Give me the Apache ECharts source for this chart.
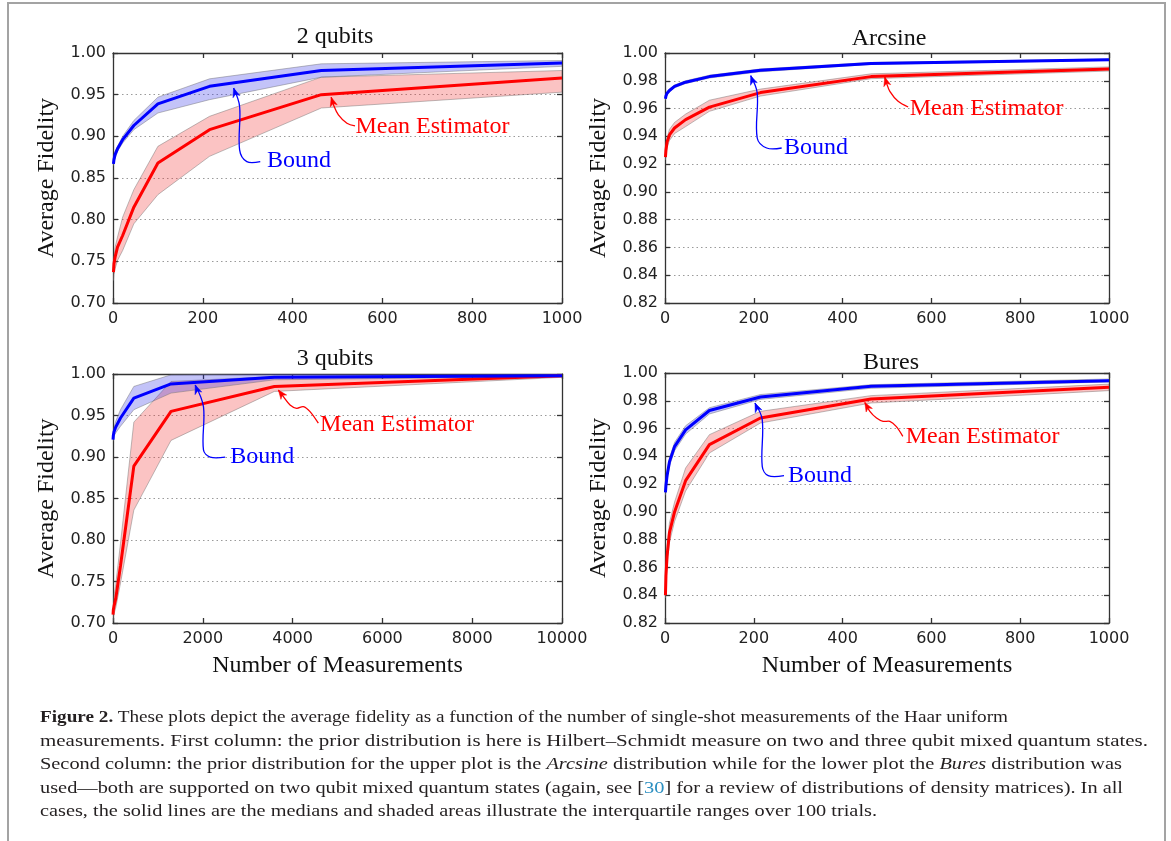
<!DOCTYPE html>
<html><head><meta charset="utf-8">
<script src="https://cdn.jsdelivr.net/npm/echarts@6/dist/echarts.min.js"></script>
<style>
html,body{margin:0;padding:0;background:#fff;}
#wrap{position:relative;width:1171px;height:841px;overflow:hidden;background:#fff;}
#chart{position:absolute;left:0;top:0;width:1171px;height:841px;}
#frame{position:absolute;left:7px;top:2px;width:1155px;height:900px;border:2px solid #a3a3a3;border-bottom:none;pointer-events:none;}
#caption{position:absolute;left:40px;top:705px;font-family:"Liberation Serif","Times New Roman",serif;font-size:17px;line-height:23.5px;color:#231f20;}
#caption div{white-space:nowrap;}
#caption span.ln{display:inline-block;transform-origin:0 50%;}
</style></head>
<body>
<div id="wrap">
<div id="chart"></div>
<div id="frame"></div>
<div id="caption">
<div><span class="ln"><b>Figure 2.</b> These plots depict the average fidelity as a function of the number of single-shot measurements of the Haar uniform</span></div>
<div><span class="ln">measurements. First column: the prior distribution is here is Hilbert–Schmidt measure on two and three qubit mixed quantum states.</span></div>
<div><span class="ln">Second column: the prior distribution for the upper plot is the <i>Arcsine</i> distribution while for the lower plot the <i>Bures</i> distribution was</span></div>
<div><span class="ln">used—both are supported on two qubit mixed quantum states (again, see [<span style="color:#2b8fc1">30</span>] for a review of distributions of density matrices). In all</span></div>
<div><span class="ln">cases, the solid lines are the medians and shaded areas illustrate the interquartile ranges over 100 trials.</span></div>
</div>
</div>
<script>
// ---------------- DATA ----------------
const measurements1000 = [1, 2.15, 4.64, 10, 21.5, 46.4, 100, 215, 464, 1000];
const measurements10000 = [1, 2.78, 7.74, 21.5, 59.9, 167, 464, 1292, 3594, 10000];

// 2 qubits
const q2Bound   = [0.867, 0.872, 0.878, 0.885, 0.896, 0.913, 0.939, 0.960, 0.979, 0.988];
const q2BoundLo = [0.865, 0.869, 0.874, 0.882, 0.892, 0.908, 0.928, 0.944, 0.971, 0.984];
const q2BoundHi = [0.869, 0.875, 0.882, 0.888, 0.900, 0.919, 0.947, 0.969, 0.987, 0.991];
const q2Mean    = [0.737, 0.747, 0.755, 0.767, 0.781, 0.815, 0.868, 0.908, 0.950, 0.970];
const q2MeanLo  = [0.727, 0.734, 0.741, 0.751, 0.763, 0.795, 0.830, 0.876, 0.934, 0.953];
const q2MeanHi  = [0.743, 0.755, 0.767, 0.779, 0.803, 0.836, 0.888, 0.924, 0.971, 0.979];

// Arcsine
const arcBound   = [0.967, 0.969, 0.971, 0.973, 0.976, 0.979, 0.983, 0.9875, 0.9925, 0.9952];
const arcBoundLo = [0.966, 0.968, 0.970, 0.972, 0.975, 0.978, 0.982, 0.9865, 0.9918, 0.9947];
const arcBoundHi = [0.968, 0.970, 0.972, 0.974, 0.977, 0.980, 0.984, 0.9885, 0.9932, 0.9957];
const arcMean    = [0.925, 0.930, 0.936, 0.941, 0.946, 0.952, 0.961, 0.9715, 0.983, 0.9885];
const arcMeanLo  = [0.923, 0.927, 0.932, 0.937, 0.942, 0.947, 0.958, 0.969, 0.9815, 0.987];
const arcMeanHi  = [0.927, 0.933, 0.939, 0.945, 0.950, 0.956, 0.966, 0.974, 0.985, 0.990];

// 3 qubits
const q3Bound   = [0.921, 0.923, 0.926, 0.930, 0.936, 0.947, 0.971, 0.988, 0.996, 0.998];
const q3BoundLo = [0.919, 0.920, 0.922, 0.925, 0.929, 0.937, 0.957, 0.977, 0.993, 0.997];
const q3BoundHi = [0.923, 0.926, 0.930, 0.935, 0.943, 0.957, 0.985, 0.999, 1.000, 1.000];
const q3Mean    = [0.710, 0.712, 0.716, 0.720, 0.729, 0.769, 0.889, 0.955, 0.985, 0.998];
const q3MeanLo  = [0.702, 0.704, 0.707, 0.711, 0.718, 0.748, 0.836, 0.920, 0.979, 0.996];
const q3MeanHi  = [0.718, 0.721, 0.726, 0.732, 0.746, 0.796, 0.942, 0.991, 0.997, 0.999];

// Bures
const buresBound   = [0.914, 0.919, 0.926, 0.936, 0.947, 0.959, 0.973, 0.9827, 0.9904, 0.9945];
const buresBoundLo = [0.912, 0.917, 0.923, 0.933, 0.944, 0.956, 0.9705, 0.981, 0.989, 0.9935];
const buresBoundHi = [0.916, 0.922, 0.929, 0.939, 0.950, 0.962, 0.975, 0.9845, 0.9916, 0.9957];
const buresMean    = [0.840, 0.854, 0.868, 0.885, 0.900, 0.9225, 0.9484, 0.9676, 0.9813, 0.9897];
const buresMeanLo  = [0.838, 0.850, 0.862, 0.878, 0.893, 0.915, 0.9424, 0.964, 0.9784, 0.9873];
const buresMeanHi  = [0.842, 0.858, 0.874, 0.892, 0.907, 0.9316, 0.9556, 0.9724, 0.9837, 0.992];

const panelTitles = ['2 qubits', 'Arcsine', '3 qubits', 'Bures'];
const boundLabel = 'Bound';
const meanLabel = 'Mean Estimator';
const yAxisTitle = 'Average Fidelity';
const xAxisTitle = 'Number of Measurements';

// ---------------- LAYOUT / STYLE ----------------
const BLUE = '#0000ff', RED = '#ff0000';
const BLUE_FILL = 'rgba(40,40,230,0.28)', RED_FILL = 'rgba(240,40,40,0.28)';
const BAND_EDGE = 'rgba(110,110,110,0.45)';
const SERIF = '"Liberation Serif","Times New Roman",serif';
const SANS = '"DejaVu Sans",sans-serif';

const panels = [
  {title: panelTitles[0], grid:{left:113, top:53, width:449, height:250}, titleTop:20, titleX:330,
   xs: measurements1000, xMax:1000, xInt:200, yMin:0.70, yInt:0.05,
   bound:[q2Bound,q2BoundLo,q2BoundHi], mean:[q2Mean,q2MeanLo,q2MeanHi], xName:false},
  {title: panelTitles[1], grid:{left:665, top:53, width:444, height:250}, titleTop:22, titleX:884,
   xs: measurements1000, xMax:1000, xInt:200, yMin:0.82, yInt:0.02,
   bound:[arcBound,arcBoundLo,arcBoundHi], mean:[arcMean,arcMeanLo,arcMeanHi], xName:false},
  {title: panelTitles[2], grid:{left:113, top:374, width:449, height:249}, titleTop:342, titleX:330,
   xs: measurements10000, xMax:10000, xInt:2000, yMin:0.70, yInt:0.05,
   bound:[q3Bound,q3BoundLo,q3BoundHi], mean:[q3Mean,q3MeanLo,q3MeanHi], xName:true},
  {title: panelTitles[3], grid:{left:665, top:373, width:444, height:250}, titleTop:346, titleX:886,
   xs: measurements1000, xMax:1000, xInt:200, yMin:0.82, yInt:0.02,
   bound:[buresBound,buresBoundLo,buresBoundHi], mean:[buresMean,buresMeanLo,buresMeanHi], xName:true}
];

// annotation anchors in data coordinates (text anchor + arrow path ending at arrow head)
const annotations = [
  {bound:{text:[343,0.8704], path:[[328,0.8696],[298,0.8696],[282,0.8837],[282,0.9358],[268.6,0.9579]]},
   mean:{text:[540,0.9117], path:[[539,0.9125],[521,0.9158],[502,0.9258],[491,0.9378],[486,0.947]]}},
  {bound:{text:[268,0.9318], path:[[262.8,0.9316],[229,0.9316],[207.7,0.9388],[207.7,0.9712],[193,0.9837]]},
   mean:{text:[551,0.9599], path:[[547.6,0.9611],[525,0.9652],[506.4,0.9724],[498.9,0.9784],[495,0.9827]]}},
  {bound:{text:[2609,0.9001], path:[[2498,0.8998],[2164,0.8998],[2015,0.9085],[2015,0.9606],[1831,0.9868]]},
   mean:{text:[4612,0.9386], path:[[4573,0.9407],[4388,0.9547],[4239,0.9607],[4091,0.9587],[3943,0.9627],[3795,0.9727],[3683,0.9807]]}},
  {bound:{text:[277,0.926], path:[[268,0.9261],[232.5,0.9261],[219,0.9328],[219,0.9664],[202.6,0.9784]]},
   mean:{text:[542,0.9541], path:[[535.6,0.9544],[520.6,0.9616],[506.4,0.9652],[491.3,0.9652],[476.4,0.9676],[461.4,0.9724],[450,0.9788]]}}
];

const axisLineStyle = {color:'#333', width:1.3};
const grids = [], xAxes = [], yAxes = [], series = [], titles = [];

function bandSeries(g, xs, lo, hi, fill) {
  const data = xs.map((x,k)=>[x, lo[k], hi[k]]);
  return {
    type:'custom', xAxisIndex:2*g, yAxisIndex:2*g, data, clip:true, silent:true, z:1, animation:false,
    encode:{x:0, y:[1,2]},
    renderItem(params, api) {
      if (params.dataIndex !== 0) return null;
      const up = data.map(d=>api.coord([d[0], d[2]]));
      const lw = data.map(d=>api.coord([d[0], d[1]])).reverse();
      return {type:'polygon', shape:{points: up.concat(lw)}, style:{fill:fill, stroke:BAND_EDGE, lineWidth:1}};
    }
  };
}
function lineSeries(g, xs, ys, color, z) {
  return {type:'line', xAxisIndex:2*g, yAxisIndex:2*g, data: xs.map((x,k)=>[x, ys[k]]),
    showSymbol:false, symbol:'none', silent:true, animation:false, z:z,
    lineStyle:{color:color, width:3}};
}

panels.forEach((p, g) => {
  grids.push(Object.assign({show:false}, p.grid));
  titles.push({text:p.title, left:p.titleX, top:p.titleTop, textAlign:'center',
    textStyle:{fontFamily:SERIF, fontSize:24, fontWeight:'normal', color:'#111', lineHeight:24}});
  xAxes.push({type:'value', gridIndex:g, min:0, max:p.xMax, interval:p.xInt, position:'bottom',
    axisLine:{show:true, onZero:false, lineStyle:axisLineStyle},
    axisTick:{show:true, inside:true, length:5, lineStyle:axisLineStyle},
    axisLabel:{fontFamily:SANS, fontSize:16, color:'#222', margin:8, formatter:v=>String(v)},
    splitLine:{show:false},
    name: p.xName ? xAxisTitle : '', nameLocation:'middle', nameGap:31,
    nameTextStyle:{fontFamily:SERIF, fontSize:24, color:'#111'}});
  xAxes.push({type:'value', gridIndex:g, min:0, max:p.xMax, interval:p.xInt, position:'top',
    axisLine:{show:true, onZero:false, lineStyle:axisLineStyle},
    axisTick:{show:true, inside:true, length:5, lineStyle:axisLineStyle},
    axisLabel:{show:false}, splitLine:{show:false}});
  yAxes.push({type:'value', gridIndex:g, min:p.yMin, max:1.0, interval:p.yInt, position:'left',
    axisLine:{show:true, onZero:false, lineStyle:axisLineStyle},
    axisTick:{show:true, inside:true, length:5, lineStyle:axisLineStyle},
    axisLabel:{fontFamily:SANS, fontSize:16, color:'#222', margin:7, formatter:v=>v.toFixed(2)},
    splitLine:{show:true, lineStyle:{color:'#9a9a9a', type:[1.5,3], width:1}},
    name:yAxisTitle, nameLocation:'middle', nameGap:54,
    nameTextStyle:{fontFamily:SERIF, fontSize:24, color:'#111'}});
  yAxes.push({type:'value', gridIndex:g, min:p.yMin, max:1.0, interval:p.yInt, position:'right',
    axisLine:{show:true, onZero:false, lineStyle:axisLineStyle},
    axisTick:{show:true, inside:true, length:5, lineStyle:axisLineStyle},
    axisLabel:{show:false}, splitLine:{show:false}});
  series.push(bandSeries(g, p.xs, p.mean[1], p.mean[2], RED_FILL));
  series.push(bandSeries(g, p.xs, p.bound[1], p.bound[2], BLUE_FILL));
  series.push(lineSeries(g, p.xs, p.mean[0], RED, 3));
  series.push(lineSeries(g, p.xs, p.bound[0], BLUE, 4));
});

const chart = echarts.init(document.getElementById('chart'), null, {renderer:'canvas'});
chart.setOption({animation:false, backgroundColor:'transparent', title:titles, grid:grids, xAxis:xAxes, yAxis:yAxes, series:series});

// annotations
const graphics = [];
function toPx(g, pt){ return chart.convertToPixel({xAxisIndex:2*g, yAxisIndex:2*g}, pt); }
function addAnno(g, a, label, color) {
  const pts = a.path.map(pt=>toPx(g, pt));
  graphics.push({type:'polyline', silent:true, z:20, shape:{points:pts, smooth:0.35},
    style:{stroke:color, lineWidth:1.3, fill:null}});
  const H = pts[pts.length-1], P = pts[pts.length-2];
  let dx = H[0]-P[0], dy = H[1]-P[1]; const L = Math.hypot(dx,dy)||1; dx/=L; dy/=L;
  const bx = H[0]-dx*9, by = H[1]-dy*9, nx = -dy, ny = dx;
  graphics.push({type:'polygon', silent:true, z:21, shape:{points:[H,[bx+nx*3.6,by+ny*3.6],[H[0]-dx*6.5,H[1]-dy*6.5],[bx-nx*3.6,by-ny*3.6]]},
    style:{fill:color, stroke:color, lineWidth:0.5}});
  const t = toPx(g, a.text);
  graphics.push({type:'text', silent:true, z:22, x:t[0], y:t[1],
    style:{text:label, font:'24px '+SERIF, fill:color, align:'left', verticalAlign:'middle', textAlign:'left', textVerticalAlign:'middle'}});
}
annotations.forEach((a,g)=>{ addAnno(g, a.bound, boundLabel, BLUE); addAnno(g, a.mean, meanLabel, RED); });
chart.setOption({graphic:{elements:graphics}});

// caption line fitting
const capTargets = [968, 1108, 1082, 1083, 837];
document.querySelectorAll('#caption span.ln').forEach((s,i)=>{
  const w = s.getBoundingClientRect().width;
  if (w>0) s.style.transform = 'scaleX(' + (capTargets[i]/w).toFixed(4) + ')';
});
</script>
</body></html>
